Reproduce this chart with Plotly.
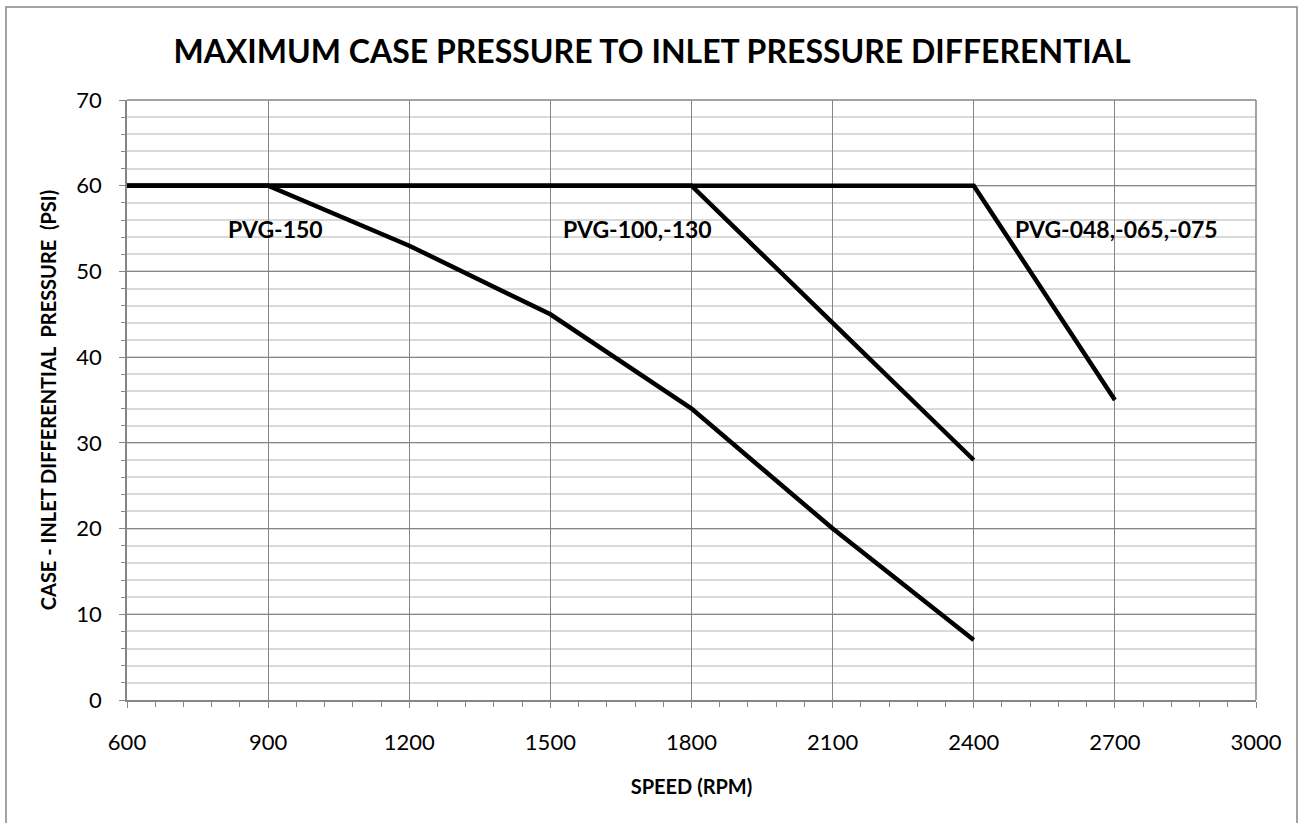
import plotly.graph_objects as go

# Data
speed_pvg150 = [600, 900, 1200, 1500, 1800, 2100, 2400]
psi_pvg150 = [60, 60, 53, 45, 34, 20, 7]

speed_pvg100 = [600, 900, 1200, 1500, 1800, 2100, 2400]
psi_pvg100 = [60, 60, 60, 60, 60, 44, 28]

speed_pvg048 = [600, 900, 1200, 1500, 1800, 2100, 2400, 2700]
psi_pvg048 = [60, 60, 60, 60, 60, 60, 60, 35]

label_text = ["PVG-150", "PVG-100,-130", "PVG-048,-065,-075"]
label_x = [915, 1685, 2704]
label_y = [55, 55, 55]

x_ticks = [600, 900, 1200, 1500, 1800, 2100, 2400, 2700, 3000]
y_ticks = [0, 10, 20, 30, 40, 50, 60, 70]

FONT = "Lato"
AXIS_COLOR = "#868686"

fig = go.Figure()
for xs, ys, nm in [(speed_pvg150, psi_pvg150, "PVG-150"),
                   (speed_pvg100, psi_pvg100, "PVG-100,-130"),
                   (speed_pvg048, psi_pvg048, "PVG-048,-065,-075")]:
    fig.add_trace(go.Scatter(x=xs, y=ys, mode="lines", name=nm,
                             line=dict(color="#000000", width=4.5),
                             showlegend=False, hoverinfo="x+y"))

for t, x, y in zip(label_text, label_x, label_y):
    fig.add_annotation(x=x, y=y, xref="x", yref="y", text="<b>%s</b>" % t,
                       showarrow=False, font=dict(family=FONT, size=23, color="#000000"))

W, H = 1304, 823
L, R, T, B = 127, 48, 100, 123
pw, ph = W - L - R, H - T - B

def px_to_paper_x(px):
    return (px - L) / pw

def px_to_paper_y(py):
    return (H - B - py) / ph

fig.add_shape(type="rect", xref="paper", yref="paper",
              x0=px_to_paper_x(6), x1=px_to_paper_x(1297),
              y0=px_to_paper_y(835), y1=px_to_paper_y(7),
              line=dict(color=AXIS_COLOR, width=1.5), fillcolor="rgba(0,0,0,0)", layer="below")

fig.update_layout(
    width=W, height=H,
    margin=dict(l=L, r=R, t=T, b=B, pad=0),
    paper_bgcolor="white", plot_bgcolor="white",
    title=dict(text="<b>MAXIMUM CASE PRESSURE TO INLET PRESSURE DIFFERENTIAL</b>",
               x=0.5, xanchor="center", y=1 - 52 / H, yanchor="middle",
               font=dict(family=FONT, size=32, color="#000000")),
    font=dict(family=FONT, color="#000000"),
)

fig.update_xaxes(
    range=[600, 3000], tickvals=x_ticks, ticktext=[str(v) for v in x_ticks],
    showline=True, linecolor=AXIS_COLOR, linewidth=1.5, mirror=False,
    showgrid=True, gridcolor=AXIS_COLOR, gridwidth=1.2,
    ticks="outside", ticklen=6, tickcolor=AXIS_COLOR, tickwidth=1.2,
    tickfont=dict(family=FONT, size=22, color="#000000"),
    ticklabelstandoff=16,
    minor=dict(dtick=60, tick0=600, ticks="outside", ticklen=5, tickcolor=AXIS_COLOR,
               tickwidth=1.2, showgrid=False),
    zeroline=False,
    title=dict(text="<b>SPEED (RPM)</b>", font=dict(family=FONT, size=20, color="#000000"),
               standoff=26),
)

fig.update_yaxes(
    range=[0, 70], tickvals=y_ticks, ticktext=[str(v) for v in y_ticks],
    showline=True, linecolor=AXIS_COLOR, linewidth=1.5, mirror=False,
    showgrid=True, gridcolor=AXIS_COLOR, gridwidth=1.2,
    ticks="outside", ticklen=6, tickcolor=AXIS_COLOR, tickwidth=1.2,
    tickfont=dict(family=FONT, size=22, color="#000000"),
    ticklabelstandoff=13,
    minor=dict(dtick=2, tick0=0, ticks="outside", ticklen=4, tickcolor=AXIS_COLOR,
               tickwidth=1.2, showgrid=True, gridcolor="#d9d9d9", gridwidth=1.5),
    zeroline=False,
    title=dict(text="<b>CASE - INLET DIFFERENTIAL  PRESSURE  (PSI)</b>",
               font=dict(family=FONT, size=20, color="#000000"), standoff=14),
)

# plot-area border on right and top
fig.add_shape(type="line", xref="paper", yref="paper", x0=1, x1=1, y0=0, y1=1,
              line=dict(color=AXIS_COLOR, width=1.5))
fig.add_shape(type="line", xref="paper", yref="paper", x0=0, x1=1, y0=1, y1=1,
              line=dict(color=AXIS_COLOR, width=1.5))

fig.write_html("out.html", config={"displayModeBar": False},
               post_script="document.body.style.margin='0';document.body.style.overflow='hidden';")
